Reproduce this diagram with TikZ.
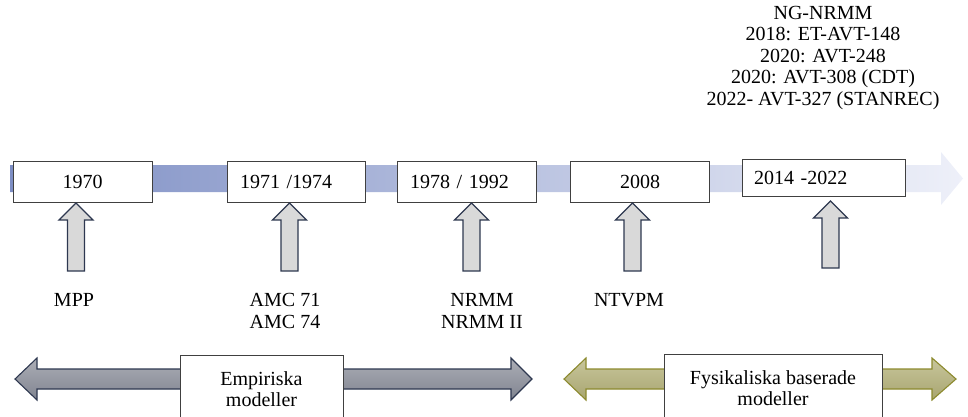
\documentclass[tikz,border=0pt]{standalone}
\usepackage{fontspec}
\setmainfont{Liberation Serif}
\usepackage{tikz}
\definecolor{tledge}{RGB}{46,56,80}
\definecolor{tlbandl}{RGB}{125,142,196}
\definecolor{tlbandr}{RGB}{238,240,249}
\definecolor{tlup}{RGB}{217,217,217}
\definecolor{tlgreyt}{RGB}{172,174,182}
\definecolor{tlgreyb}{RGB}{128,132,144}
\definecolor{tlolive}{RGB}{140,138,46}
\definecolor{tlolivet}{RGB}{200,198,156}
\definecolor{tloliveb}{RGB}{168,165,112}
\tikzset{
  yrbox/.style={
    draw=black!75, fill=white, line width=0.9pt,
    minimum width=139pt, minimum height=41pt, inner sep=0pt
  },
  yrleft/.style={yrbox, text width=113pt, align=left},
  uparr/.style={draw=tledge, fill=tlup, line width=1.3pt, line join=miter},
  empr/.style={draw=tledge, line width=1.1pt, top color=tlgreyt, bottom color=tlgreyb},
  fysk/.style={draw=tlolive, line width=1.1pt, top color=tlolivet, bottom color=tloliveb},
  grpbox/.style={
    draw=black!75, fill=white, line width=0.9pt, align=center,
    minimum height=68pt, inner sep=0pt
  },
  lbl/.style={align=center, inner sep=0pt},
  every picture/.append style={font=\fontsize{20}{21.5}\selectfont}
}

\begin{document}
\begin{tikzpicture}[x=1pt,y=-1pt]
  \useasboundingbox (0,0) rectangle (968,416);
  \clip (0,0) rectangle (968,416);
  \shade[left color=tlbandl, right color=tlbandr]
    (10,165) -- (941,165) -- (941,152) -- (963,178.5) -- (941,205)
    -- (941,192) -- (10,192) -- cycle;
  \node[yrbox] (y1970) at (82.5,181.5) {1970};
  \node[yrleft, minimum width=138pt, text width=112pt] (y1971) at (296,181.5) {1971 /1974};
  \node[yrleft] (y1978) at (466.5,181.5) {1978 / 1992};
  \node[yrbox] (y2008) at (640,181.5) {2008};
  \node[yrleft, minimum width=163pt, minimum height=37pt, text width=139pt] (y2014) at (823.5,177.5) {2014 -2022};
  \foreach \cx/\ty/\by in {76/203/271, 289.5/203/271, 471.5/203/271, 632.5/203/271, 830.5/201/268}
    \draw[uparr] (\cx-8.5,\by) -- (\cx-8.5,\ty+17) -- (\cx-17,\ty+17) -- (\cx,\ty)
      -- (\cx+17,\ty+17) -- (\cx+8.5,\ty+17) -- (\cx+8.5,\by) -- cycle;
  \node[lbl] (mpp) at (74,300) {MPP};
  \node[lbl] (amc) at (285,311) {AMC 71\\AMC 74};
  \node[lbl] (nrmm) at (482,311) {NRMM\\NRMM II};
  \node[lbl] (ntvpm) at (629,300) {NTVPM};
  \node[lbl] (ngnrmm) at (823,58) {NG-NRMM\\2018: ET-AVT-148\\2020: AVT-248\\2020: AVT-308 (CDT)\\2022- AVT-327 (STANREC)};
  \draw[empr] (15,379) -- (37,358) -- (37,369) -- (511,369) -- (511,358) -- (532,379)
    -- (511,400) -- (511,389) -- (37,389) -- (37,400) -- cycle;
  \draw[fysk] (564,379) -- (586,358) -- (586,369) -- (932,369) -- (932,358) -- (956,379)
    -- (932,400) -- (932,389) -- (586,389) -- (586,400) -- cycle;
  \node[grpbox, minimum width=163pt] (emp) at (261.5,389) {Empiriska\\modeller};
  \node[grpbox, minimum width=218pt] (fys) at (773,388) {Fysikaliska baserade\\modeller};
\end{tikzpicture}
\end{document}
